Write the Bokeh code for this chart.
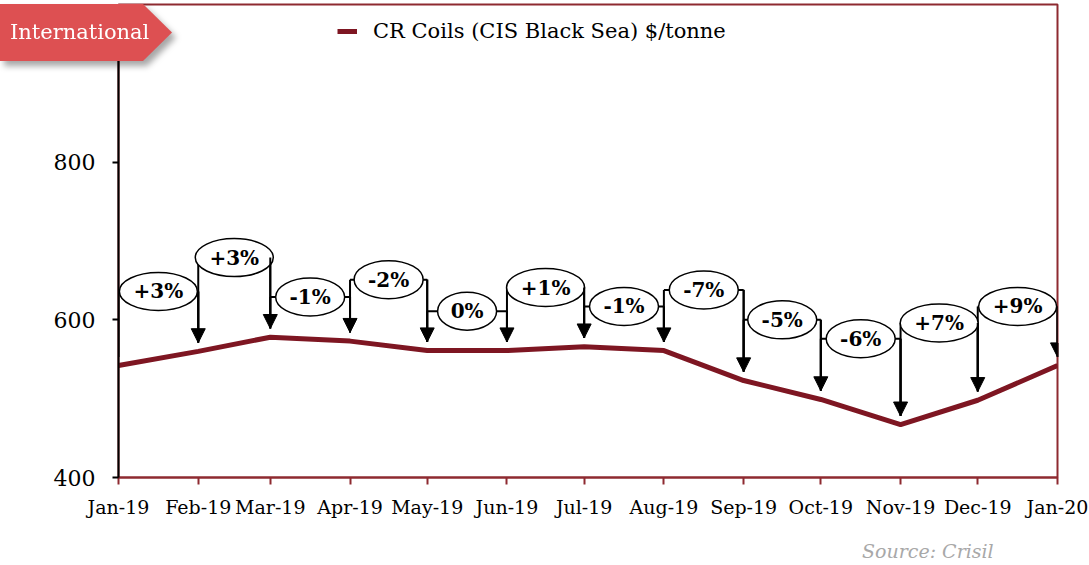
import pandas as pd
from bokeh.plotting import figure
from bokeh.layouts import column
from bokeh.models import (Range1d, FixedTicker, Arrow, NormalHead,
                          Legend, LegendItem, Div)
from bokeh.core.properties import value
from bokeh.embed import file_html
from bokeh.resources import INLINE

# ---------------- data ----------------
months = ["2019-01-01", "2019-02-01", "2019-03-01", "2019-04-01", "2019-05-01",
          "2019-06-01", "2019-07-01", "2019-08-01", "2019-09-01", "2019-10-01",
          "2019-11-01", "2019-12-01", "2020-01-01"]
tick_labels = ["Jan-19", "Feb-19", "Mar-19", "Apr-19", "May-19", "Jun-19", "Jul-19",
               "Aug-19", "Sep-19", "Oct-19", "Nov-19", "Dec-19", "Jan-20"]
prices = [542, 560, 578, 573, 561, 561, 566, 561, 523, 499, 467, 498, 542]
change_labels = ["+3%", "+3%", "-1%", "-2%", "0%", "+1%", "-1%", "-7%", "-5%",
                 "-6%", "+7%", "+9%"]
callout_levels = [636, 679, 629, 651, 611, 641, 617, 638, 600, 576, 596, 617]
y_ticks = [400, 600, 800]
series_name = "CR Coils (CIS Black Sea) $/tonne"
source_note = "Source: Crisil"
badge_text = "International"

# ---------------- styles ----------------
RED = "#7E1622"
FRAME_RED = "#8E2A30"
BADGE = "#DD5052"
FONT = "DejaVu Serif"
GAP = 11

xs = [pd.Timestamp(m).value // 10**6 for m in months]
x0 = xs[:-1]
x1 = xs[1:]
mid = [(a + b) / 2 for a, b in zip(x0, x1)]
left_end = [v + GAP for v in prices[:-1]]
right_end = [v + GAP for v in prices[1:]]

char_w = {"+": 18, "-": 9, "%": 19, "0": 12}
def ell_w(t):
    return 28 + sum(char_w.get(c, 13) for c in t)
ell_widths = [ell_w(t) for t in change_labels]

W, H = 1089, 565
p = figure(width=W, height=H, x_axis_type="datetime", output_backend="svg",
           toolbar_location=None, min_border_left=118, min_border_right=32,
           min_border_top=4, min_border_bottom=88,
           x_range=Range1d(xs[0], xs[-1]), y_range=Range1d(400, 1000))
p.xgrid.visible = False
p.ygrid.visible = False
p.outline_line_color = FRAME_RED
p.outline_line_width = 2
p.background_fill_color = "white"
p.border_fill_color = "white"

# axes
p.xaxis.ticker = FixedTicker(ticks=xs)
p.xaxis.major_label_overrides = {x: l for x, l in zip(xs, tick_labels)}
p.xaxis.axis_line_color = FRAME_RED
p.xaxis.axis_line_width = 2
p.xaxis.major_tick_line_color = FRAME_RED
p.xaxis.major_tick_line_width = 2
p.xaxis.major_tick_out = 7
p.xaxis.major_tick_in = 0
p.xaxis.minor_tick_line_color = None
p.xaxis.major_label_standoff = 11
p.xaxis.major_label_text_font = FONT
p.xaxis.major_label_text_font_size = "19px"
p.xaxis.major_label_text_color = "black"

p.yaxis.ticker = FixedTicker(ticks=y_ticks)
p.yaxis.axis_line_color = "black"
p.yaxis.axis_line_width = 2
p.yaxis.major_tick_line_color = "black"
p.yaxis.major_tick_line_width = 2
p.yaxis.major_tick_out = 6
p.yaxis.major_tick_in = 0
p.yaxis.minor_tick_line_color = None
p.yaxis.major_label_standoff = 17
p.yaxis.major_label_text_font = FONT
p.yaxis.major_label_text_font_size = "22px"
p.yaxis.major_label_text_color = "black"

# data line
line_r = p.line(x=xs, y=prices, line_color=RED, line_width=5)

# callouts
p.segment(x0=x0, y0=callout_levels, x1=x1, y1=callout_levels, line_color="black", line_width=2)
p.segment(x0=x0, y0=callout_levels, x1=x0, y1=left_end, line_color="black", line_width=2)
p.segment(x0=x1, y0=callout_levels, x1=x1, y1=right_end, line_color="black", line_width=2)
for xa, ya, yb in zip(x1, callout_levels, right_end):
    p.add_layout(Arrow(end=NormalHead(size=14, fill_color="black", line_color="black"),
                       x_start=xa, y_start=ya + 0.01, x_end=xa, y_end=yb,
                       line_color="black", line_width=2))
p.ellipse(x=mid, y=callout_levels, width=ell_widths, height=38,
          width_units="screen", height_units="screen",
          fill_color="white", line_color="black", line_width=1.5)
p.text(x=mid, y=callout_levels, text=change_labels, text_align="center",
       text_baseline="middle", text_font=value(FONT), text_font_style="bold",
       text_font_size="20px", text_color="black")

# legend
legend = Legend(items=[LegendItem(label=series_name, renderers=[line_r])],
                location=(219, 434), orientation="horizontal",
                border_line_alpha=0, background_fill_alpha=0, padding=0, margin=0,
                label_standoff=16, glyph_width=20, label_text_font=FONT,
                label_text_font_size="21px", label_text_color="black")
p.add_layout(legend)

# badge, overlaid on the top-left corner
badge_html = (
    '<div style="position:relative;width:172px;height:57px;'
    'filter:drop-shadow(4px 5px 3px rgba(0,0,0,0.35));">'
    f'<div style="width:172px;height:57px;background:{BADGE};'
    'clip-path:polygon(0 0,143px 0,172px 28.5px,143px 57px,0 57px);'
    "color:white;font-family:'DejaVu Serif',serif;font-size:21px;"
    'line-height:57px;padding-left:10px;box-sizing:border-box;white-space:nowrap;">'
    f'{badge_text}</div></div>'
)
badge = Div(text=badge_html, width=180, height=66,
            styles={"position": "absolute", "left": "0px", "top": "4px",
                    "z-index": "10", "margin": "0px", "padding": "0px",
                    "width": "180px", "height": "66px"})

# source note, bottom right
source_html = (
    "<div style=\"font-family:'DejaVu Serif',serif;font-style:italic;font-size:19px;"
    f'line-height:20px;color:#A8A8A8;white-space:nowrap;">{source_note}</div>'
)
source = Div(text=source_html, width=160, height=22,
             styles={"position": "absolute", "left": "862px", "top": "541px",
                     "z-index": "10", "margin": "0px", "padding": "0px",
                     "width": "160px", "height": "22px"})

if "elements" in p.properties():
    p.elements = [badge, source]
    root = p
else:
    root = column(p, badge, source)

open("out.html", "w").write(file_html(root, INLINE))
